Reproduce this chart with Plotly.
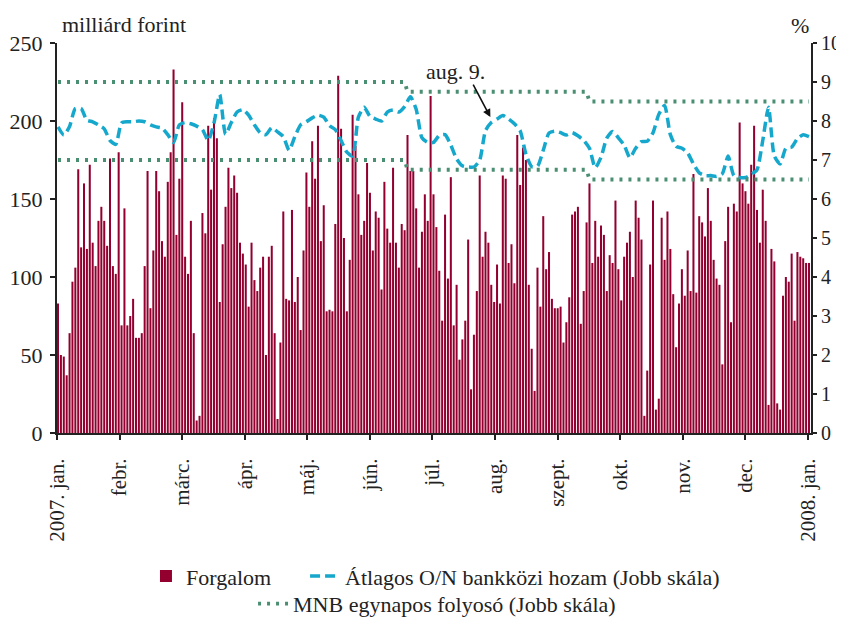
import numpy as np
import plotly.graph_objects as go

# Daily interbank turnover (billion HUF), one value per weekday of 2007
forgalom = [
    83, 50, 49, 37, 64, 97, 106, 169, 119, 160, 118, 172, 122, 107, 136, 145, 136, 120, 176, 107, 102, 180,
    69, 144, 69, 75, 86, 61, 61, 64, 107, 168, 80, 117, 168, 155, 123, 113, 161, 180, 233, 127, 163, 212,
    113, 102, 136, 64, 8, 11, 141, 128, 197,
    156, 202, 189, 84, 121, 145, 170, 157, 165, 154, 122, 115, 108, 81, 122, 98, 91, 106, 113, 50, 113, 120,
    64, 9, 58, 142, 86, 85, 143, 84, 100, 66, 117, 167, 145, 187, 163, 197, 123, 146, 78, 79, 78, 134, 229,
    195, 125, 78, 111, 204, 184, 153,
    127, 136, 173, 154, 117, 142, 138, 92, 161, 131, 122, 170, 122, 106, 134, 130, 191, 168, 168, 144, 106,
    129, 153, 136, 216, 153, 132, 104, 72, 140, 99, 164, 69, 95, 47, 60, 72, 124, 28, 63, 91, 165, 113, 129,
    122, 95, 84, 108, 83, 165, 163, 109,
    121, 96, 191, 159, 183, 175, 95, 54, 27, 106, 81, 139, 105, 116, 86, 80, 80, 81, 58, 71, 87, 140, 142,
    145, 70, 91, 135, 160, 109, 136, 113, 133, 127, 91, 114, 109, 149, 105, 85, 113, 122, 129, 100, 149, 138,
    124, 11, 40, 108, 149, 15, 22,
    138, 111, 142, 118, 89, 55, 83, 105, 88, 117, 91, 166, 90, 139, 135, 126, 157, 136, 111, 99, 95, 44, 123,
    145, 71, 147, 142, 199, 160, 155, 147, 172, 197, 143, 122, 156, 136, 18, 118, 110, 19, 15, 88, 100, 97,
    115, 72, 116, 113, 112, 109, 109,
]

# Average O/N interbank yield (%), read every second weekday
hozam = [
    7.85, 7.64, 7.86, 8.32, 8.32, 8.02, 7.98, 7.90, 7.80, 7.50, 7.40, 7.95, 7.98, 7.98, 8.00, 7.98, 7.90,
    7.85, 7.82, 7.65, 7.45, 7.90, 7.96, 7.93, 7.87, 7.78, 7.50, 7.95, 8.68, 7.66, 7.96, 8.23, 8.29, 8.15,
    7.90, 7.70, 7.65, 7.83, 7.72, 7.60, 7.25, 7.60, 7.90, 7.98, 8.08, 8.15, 8.10, 7.88, 7.78, 7.50, 7.20,
    7.10, 8.10, 8.35, 8.12, 8.05, 8.00, 8.23, 8.28, 8.23, 8.37, 8.62, 8.30, 7.57, 7.45, 7.45, 7.63, 7.65,
    7.38, 7.03, 6.85, 6.82, 6.82, 7.00, 7.75, 7.96, 8.05, 8.14, 8.05, 7.93, 7.75, 7.15, 6.83, 6.84, 7.25,
    7.69, 7.74, 7.70, 7.64, 7.70, 7.62, 7.50, 7.30, 6.80, 7.07, 7.56, 7.73, 7.57, 7.38, 7.06, 7.30, 7.47,
    7.48, 7.70, 8.17, 8.40, 7.65, 7.35, 7.30, 7.18, 6.90, 6.67, 6.60, 6.60, 6.58, 6.65, 7.10, 6.60, 6.55,
    6.55, 6.63, 6.75, 7.50, 8.35, 7.10, 6.90, 7.30, 7.33, 7.55, 7.65, 7.60,
]
hozam_step = 2

# MNB overnight corridor (%): upper / lower bounds and the weekday index where each level starts
folyoso_felso = [9.0, 8.75, 8.5]
folyoso_also = [7.0, 6.75, 6.5]
folyoso_kezdet = [0, 121, 184]

honap_cimkek = ["2007. jan.", "febr.", "márc.", "ápr.", "máj.", "jún.", "júl.",
                "aug.", "szept.", "okt.", "nov.", "dec.", "2008. jan."]

# "aug. 9." callout: weekday index and yield level it points at
aug9_idx = 149.7
aug9_val = 8.1

n = len(forgalom)
x_days = np.arange(n)
x_hozam = np.arange(0, n, hozam_step)[: len(hozam)]


def step_series(levels, starts):
    out = np.empty(n)
    bounds = list(starts) + [n]
    for lv, a, b in zip(levels, bounds[:-1], bounds[1:]):
        out[a:b] = lv
    return out


upper = step_series(folyoso_felso, folyoso_kezdet)
lower = step_series(folyoso_also, folyoso_kezdet)

BAR = "#930030"
CYAN = "#16A8CC"
GREEN = "#4A8F72"
INK = "#222222"
FONT = "Liberation Serif"

fig = go.Figure()
fig.add_trace(go.Bar(x=x_days, y=forgalom, name="Forgalom", marker=dict(color=BAR, line=dict(width=0)),
                     yaxis="y", legend="legend"))
fig.add_trace(go.Scatter(x=x_hozam, y=hozam, mode="lines", name="Átlagos O/N bankközi hozam (Jobb skála)",
                         line=dict(color=CYAN, width=3.5, dash="10px,5px", shape="spline", smoothing=0.6),
                         yaxis="y2", legend="legend3"))
fig.add_trace(go.Scatter(x=x_days, y=upper, mode="lines", name="MNB egynapos folyosó (Jobb skála)",
                         line=dict(color=GREEN, width=3.8, dash="3px,6px"), legendgroup="mnb", yaxis="y2",
                         legend="legend2"))
fig.add_trace(go.Scatter(x=x_days, y=lower, mode="lines", name="MNB egynapos folyosó (Jobb skála)",
                         line=dict(color=GREEN, width=3.8, dash="3px,6px"), legendgroup="mnb",
                         showlegend=False, yaxis="y2", legend="legend2"))

x_lo, x_hi = -0.35, n - 0.3
tickpos = np.linspace(x_lo, n - 1.35, len(honap_cimkek))

legend_font = dict(family=FONT, size=22, color=INK)
leg_common = dict(orientation="h", xanchor="left", yanchor="middle", font=legend_font,
                  bgcolor="rgba(0,0,0,0)", borderwidth=0)
# The page body has an 8px margin, so the figure is sized to fit the 844x619 window exactly.
fig.update_layout(
    width=836, height=611,
    margin=dict(l=49, r=33, t=35, b=186, autoexpand=False),
    paper_bgcolor="white", plot_bgcolor="white",
    font=dict(family=FONT, size=18, color=INK),
    bargap=0.3,
    showlegend=True,
    legend=dict(x=0.118, y=-0.367, **leg_common),
    legend3=dict(x=0.329, y=-0.367, **leg_common),
    legend2=dict(x=0.26, y=-0.438, **leg_common),
    xaxis=dict(range=[x_lo, x_hi], tickmode="array", tickvals=tickpos, ticktext=honap_cimkek,
               tickangle=-90, ticks="outside", ticklen=5, tickwidth=2, tickcolor=INK,
               showline=True, linecolor=INK, linewidth=2, showgrid=False, zeroline=False,
               tickfont=dict(family=FONT, size=21), ticklabelstandoff=10, automargin=False),
    yaxis=dict(range=[0, 250], tickvals=[0, 50, 100, 150, 200, 250], ticks="outside", ticklen=5,
               tickwidth=2, tickcolor=INK, showline=True, linecolor=INK, linewidth=2,
               showgrid=False, zeroline=False, tickfont=dict(family=FONT, size=22),
               ticklabelstandoff=3, automargin=False),
    yaxis2=dict(range=[0, 10], tickvals=list(range(11)), overlaying="y", side="right", ticks="outside",
                ticklen=4, tickwidth=2, tickcolor=INK, showline=True, linecolor=INK, linewidth=2,
                showgrid=False, zeroline=False, tickfont=dict(family=FONT, size=20), automargin=False),
    annotations=[
        dict(text="milliárd forint", xref="paper", yref="paper", x=0.004, y=1.047, xanchor="left",
             yanchor="middle", showarrow=False, font=dict(family=FONT, size=22, color=INK)),
        dict(text="%", xref="paper", yref="paper", x=0.985, y=1.045, xanchor="center", yanchor="middle",
             showarrow=False, font=dict(family=FONT, size=22, color=INK)),
        dict(text="", x=aug9_idx, y=aug9_val, xref="x", yref="y2", ax=-18, ay=-34, showarrow=True,
             arrowhead=2, arrowsize=1, arrowwidth=1.6, arrowcolor="#111"),
        dict(text="aug. 9.", x=aug9_idx, y=aug9_val, xref="x", yref="y2",
             showarrow=False, xshift=-35, yshift=46, font=dict(family=FONT, size=22, color=INK)),
    ],
)

fig.write_html("out.html")
